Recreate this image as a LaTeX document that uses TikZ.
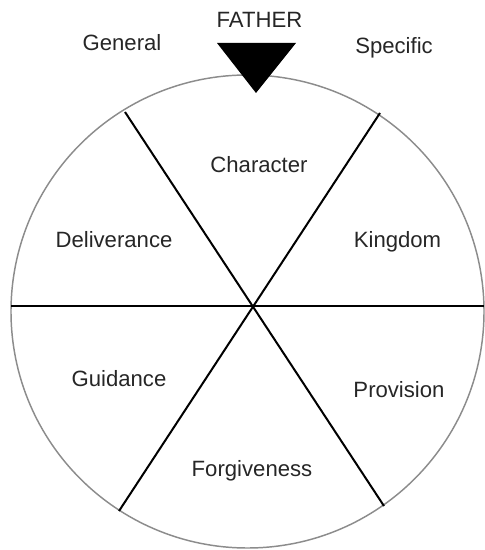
\documentclass[tikz,border=0pt]{standalone}
\usepackage{fontspec}
\setmainfont{Liberation Sans}
\usetikzlibrary{positioning, calc}

\begin{document}
\begin{tikzpicture}[
      x=0.75pt, y=0.75pt,
      every node/.style={inner sep=0pt, anchor=base, text=black!85,
        font=\fontsize{16.6}{19}\selectfont},
      rim/.style={draw=black!45, line width=1.1pt},
      spoke/.style={draw=black, line width=1.5pt}
    ]
      \useasboundingbox (0,0) rectangle (485,550);
      % wheel
      \coordinate (o) at (247.5,238.5);
      \draw[rim] (o) circle [radius=236.5];
      \coordinate (w) at (11,244);
      \coordinate (e) at (484,244);
      \coordinate (nw) at (125,438);
      \coordinate (se) at (384,44);
      \coordinate (ne) at (380,437);
      \coordinate (sw) at (119,39);
      \draw[spoke] (w) -- (e);
      \draw[spoke] (nw) -- (se);
      \draw[spoke] (ne) -- (sw);
      % pointer
      \coordinate (p1) at (217,507);
      \coordinate (p2) at (296,507);
      \coordinate (p3) at (256,457);
      \fill (p1) -- (p2) -- (p3) -- cycle;
      \node (father) at (259.5,522) {FATHER};
      \node (general) at (122,499) {General};
      \node (specific) at (394,496) {Specific};
      % sectors
      \node (character) at (259,377) {Character};
      \node (deliverance) at (114,302) {Deliverance};
      \node (kingdom) at (397.5,302) {Kingdom};
      \node (guidance) at (119,163) {Guidance};
      \node (provision) at (399,152) {Provision};
      \node (forgiveness) at (252,73) {Forgiveness};
    \end{tikzpicture}
\end{document}
